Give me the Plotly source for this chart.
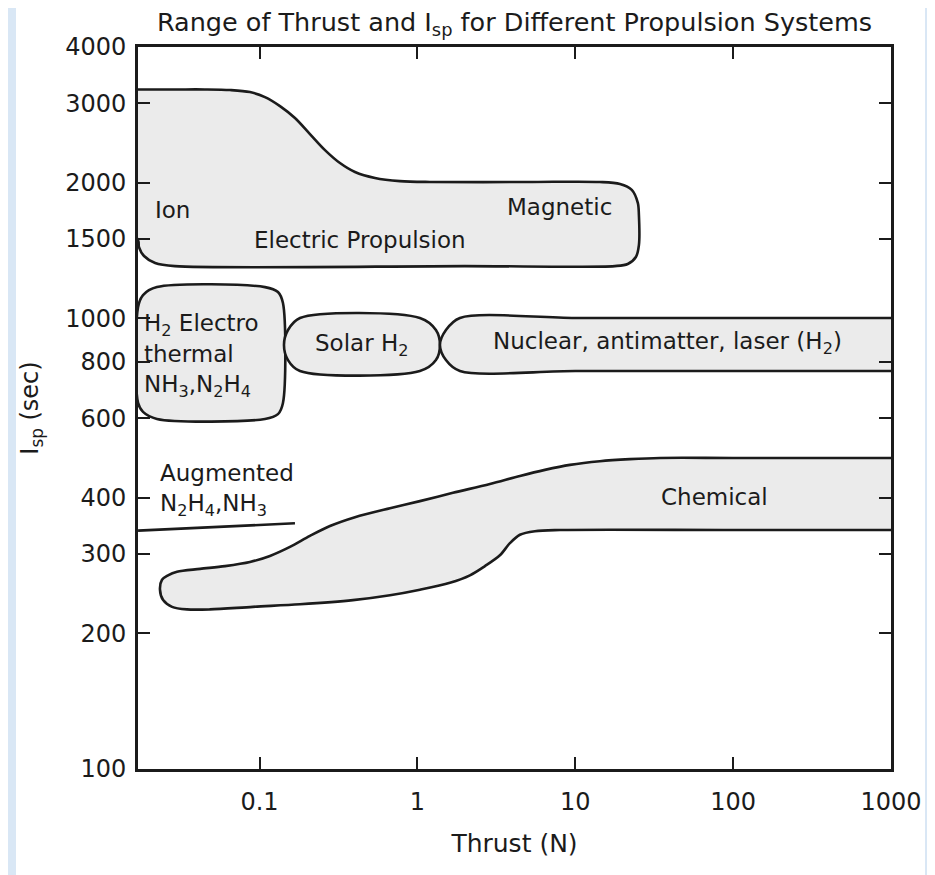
import plotly.graph_objects as go
import math

# ---- data (Thrust in N, Isp in s) ----
x_tick_vals = [0.1, 1, 10, 100, 1000]
x_tick_text = ["0.1", "1", "10", "100", "1000"]
y_tick_vals = [100, 200, 300, 400, 600, 800, 1000, 1500, 2000, 3000, 4000]
y_tick_text = ["100", "200", "300", "400", "600", "800", "1000", "1500", "2000", "3000", "4000"]

# Electric propulsion envelope (Ion ... Magnetic); left side runs off past the axis
electric_thrust = [0.001, 0.005, 0.013, 0.02, 0.03, 0.045, 0.065, 0.0869, 0.1082, 0.1347, 0.1676,
                   0.2086, 0.2597, 0.3231, 0.4022, 0.5383, 0.775, 1.2006, 5.0, 14.3, 19.2, 22.8,
                   24.9, 25.3, 25.3, 24.2, 21.5, 17.8, 2.0, 0.0291, 0.0218, 0.01854, 0.01723,
                   0.01698, 0.012, 0.005, 0.001]
electric_isp = [3220, 3220, 3220, 3220, 3220, 3220, 3210, 3177, 3097, 2958, 2783,
                2564, 2362, 2211, 2112, 2048, 2016, 2007, 2007, 2007, 1986, 1927,
                1803, 1695, 1454, 1368, 1320, 1306, 1306, 1306, 1327, 1375, 1439,
                1492, 1700, 2500, 3220]

thermal_thrust = [0.017, 0.01827, 0.0224, 0.1082, 0.1308, 0.1407, 0.1407, 0.1308, 0.1082,
                  0.0224, 0.01827, 0.017, 0.017]
thermal_isp = [1059, 1126, 1173, 1173, 1144, 1081, 649, 613, 598, 598, 620, 649, 1059]

solar_thrust = [0.1803, 1.037, 1.310, 1.389, 1.310, 1.037, 0.1803, 0.1514, 0.1428, 0.1514, 0.1803]
solar_isp = [1002, 1002, 942, 873, 808, 764, 764, 808, 873, 942, 1002]

nuclear_thrust = [1.859, 10, 100, 1000, 1e4, 1e5, 1e5, 1e4, 1000, 100, 10, 1.859, 1.516, 1.389,
                  1.516, 1.859]
nuclear_isp = [1002, 1002, 1002, 1002, 1002, 1002, 764, 764, 764, 764, 764, 764, 808, 873,
               942, 1002]

chemical_thrust = [0.0300, 0.042, 0.0604, 0.0869, 0.1164, 0.1558, 0.2086, 0.2793, 0.4022, 0.670,
                   1.037, 1.679, 2.879, 4.46, 6.42, 9.25, 14.3, 22.2, 34.4, 100, 1000, 1e4, 1e5,
                   1e5, 1e4, 1000, 100, 8.0, 5.55, 4.46, 3.854, 3.33, 2.677, 2.151, 1.607,
                   1.037, 0.670, 0.3905, 0.1803, 0.0908, 0.0485, 0.0347, 0.0279, 0.0245,
                   0.0234, 0.0241, 0.0263, 0.0300]
chemical_isp = [274, 278, 282, 288, 297, 311, 329, 346, 362, 379,
                393, 410, 429, 447, 461, 473, 482, 487, 490, 490, 490, 490, 490,
                339, 339, 339, 339, 339, 337, 331, 317, 298, 282, 269, 259,
                250, 243, 237, 232, 229, 226, 226, 229, 237,
                250, 263, 269, 274]

augmented_thrust = [0.017, 0.1676]
augmented_isp = [338, 351]

# labels: (text, thrust, isp, anchor)
region_labels = [
    ("Ion", 0.0211, 1739, "left"),
    ("Magnetic", 8.0, 1766, "center"),
    ("Electric Propulsion", 0.4325, 1492, "center"),
    ("H<sub>2</sub> Electro", 0.0180, 966, "left"),
    ("thermal", 0.0180, 833, "left"),
    ("NH<sub>3</sub>,N<sub>2</sub>H<sub>4</sub>", 0.0180, 708, "left"),
    ("Solar H<sub>2</sub>", 0.4452, 873, "center"),
    ("Nuclear, antimatter, laser (H<sub>2</sub>)", 38.6, 880, "center"),
    ("Augmented", 0.0227, 454, "left"),
    ("N<sub>2</sub>H<sub>4</sub>,NH<sub>3</sub>", 0.0227, 385, "left"),
    ("Chemical", 76.6, 401, "center"),
]

FONT = "DejaVu Sans"
INK = "#1b1b1b"
FILL = "#ebebeb"

fig = go.Figure()

def region(xs, ys):
    fig.add_trace(go.Scatter(
        x=xs, y=ys, mode="lines",
        line=dict(color=INK, width=2.6, shape="spline", smoothing=0.9),
        fill="toself", fillcolor=FILL,
        hoverinfo="skip", showlegend=False))

region(electric_thrust, electric_isp)
region(thermal_thrust, thermal_isp)
region(solar_thrust, solar_isp)
region(nuclear_thrust, nuclear_isp)
region(chemical_thrust, chemical_isp)
fig.add_trace(go.Scatter(x=augmented_thrust, y=augmented_isp, mode="lines",
                         line=dict(color=INK, width=2.6), hoverinfo="skip", showlegend=False))

for text, tx, iy, anc in region_labels:
    fig.add_annotation(x=math.log10(tx), y=math.log10(iy), text=text, showarrow=False,
                       xanchor=anc, yanchor="middle",
                       font=dict(family=FONT, size=23, color=INK))

axis_common = dict(
    type="log", showgrid=False, zeroline=False, automargin=False,
    showline=True, linecolor=INK, linewidth=2.6, mirror="ticks",
    ticks="inside", ticklen=12, tickwidth=2, tickcolor=INK,
    tickfont=dict(family=FONT, size=24, color=INK),
)

# page body adds an 8px offset, so the figure is 8px smaller and margins shifted
fig.update_layout(
    width=927, height=867,
    margin=dict(l=130, r=44, t=39, b=106),
    paper_bgcolor="#d9e7f5",
    plot_bgcolor="white",
    title=dict(text="Range of Thrust and I<sub>sp</sub> for Different Propulsion Systems",
               x=0.5, xref="paper", xanchor="center", y=1 - 14 / 867, yanchor="middle",
               font=dict(family=FONT, size=25.5, color=INK)),
    xaxis=dict(range=[-1.77, 3.0], tickvals=x_tick_vals, ticktext=x_tick_text,
               ticklabelstandoff=9,
               title=dict(text="Thrust (N)", font=dict(family=FONT, size=25, color=INK), standoff=20),
               **axis_common),
    yaxis=dict(range=[2, math.log10(4000)], tickvals=y_tick_vals, ticktext=y_tick_text,
               ticklabelstandoff=4,
               title=dict(text="I<sub>sp</sub> (sec)", font=dict(family=FONT, size=24, color=INK), standoff=20),
               **axis_common),
    shapes=[dict(type="rect", xref="paper", yref="paper", x0=-0.162, x1=1.0452, y0=-0.2, y1=1.054,
                 fillcolor="white", line=dict(width=0), layer="below")],
)

fig.write_html("out.html")
